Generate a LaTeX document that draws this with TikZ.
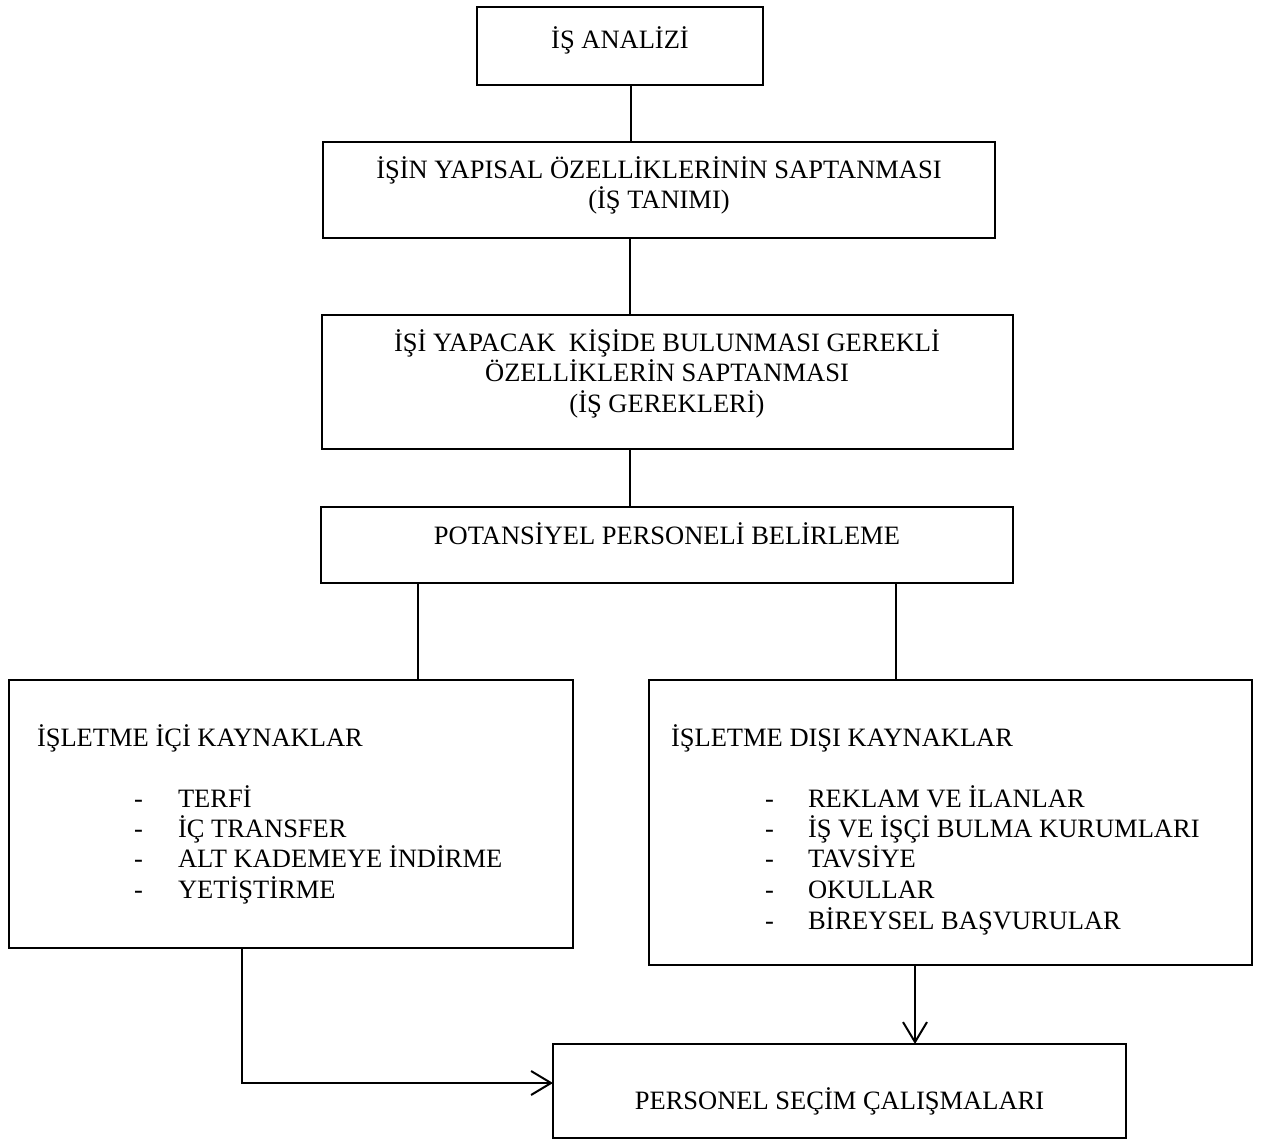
\documentclass[tikz,border=0pt]{standalone}
\usepackage{fontspec}
\setmainfont{Liberation Serif}
\usetikzlibrary{arrows.meta}
\begin{document}
\begin{tikzpicture}[x=1pt,y=-1pt,
  frame/.style={draw=black, line width=2pt, inner sep=0pt, outer sep=0pt},
  txt/.style={inner sep=0pt, outer sep=0pt, font=\fontsize{26.5}{28}\selectfont},
  ctr/.style={txt, anchor=base},
  lft/.style={txt, anchor=base west},
  link/.style={draw=black, line width=2pt},
  arr/.style={link, -{Straight Barb[length=20pt,width=24pt]}}]
\useasboundingbox[fill=white] (0,0) rectangle (1262,1141);

% boxes
\node[frame, minimum width=286pt, minimum height=78pt]  (b1)   at (620,46)     {};
\node[frame, minimum width=672pt, minimum height=96pt]  (b2)   at (659,190)    {};
\node[frame, minimum width=691pt, minimum height=134pt] (b3)   at (667.5,382)  {};
\node[frame, minimum width=692pt, minimum height=76pt]  (b4)   at (667,545)    {};
\node[frame, minimum width=564pt, minimum height=268pt] (lbox) at (291,814)    {};
\node[frame, minimum width=603pt, minimum height=285pt] (rbox) at (950.5,822.5){};
\node[frame, minimum width=573pt, minimum height=94pt]  (sel)  at (839.5,1091) {};

% texts
\node[ctr] (t1)  at (620,48)  {İŞ ANALİZİ};
\node[ctr] (t2a) at (659,178) {İŞİN YAPISAL ÖZELLİKLERİNİN SAPTANMASI};
\node[ctr] (t2b) at (659,208) {(İŞ TANIMI)};
\node[ctr] (t3a) at (667,351) {İŞİ YAPACAK\ \ KİŞİDE BULUNMASI GEREKLİ};
\node[ctr] (t3b) at (667,381) {ÖZELLİKLERİN SAPTANMASI};
\node[ctr] (t3c) at (667,412) {(İŞ GEREKLERİ)};
\node[ctr] (t4)  at (667,544) {POTANSİYEL PERSONELİ BELİRLEME};

\node[lft] (lh) at (37,746) {İŞLETME İÇİ KAYNAKLAR};
\foreach \i/\t/\y in {1/TERFİ/807, 2/İÇ TRANSFER/837, 3/ALT KADEME{}YE İNDİRME/867, 4/YETİŞTİRME/898}{
  \node[lft] (ld\i) at (134,\y) {-};
  \node[lft] (li\i) at (178,\y) {\t};
}

\node[lft] (rh) at (671,746) {İŞLETME DIŞI KAYNAKLAR};
\foreach \i/\t/\y in {1/REKLAM VE İLANLAR/807, 2/İŞ VE İŞÇİ BULMA KURUMLARI/837, 3/TAVSİYE/867, 4/OKULLAR/898, 5/BİREYSEL BAŞVURULAR/929}{
  \node[lft] (rd\i) at (765,\y) {-};
  \node[lft] (ri\i) at (808,\y) {\t};
}

\node[ctr] (t7) at (839.5,1109) {PERSONEL SEÇİM ÇALIŞMALARI};

% connector columns
\coordinate (x1) at (631,0);
\coordinate (x2) at (630,0);
\coordinate (xl) at (418,0);
\coordinate (xr) at (896,0);
\coordinate (xa) at (915,0);
\coordinate (turn) at (242,1083);

\draw[link] (b1.south -| x1) -- (b2.north -| x1);
\draw[link] (b2.south -| x2) -- (b3.north -| x2);
\draw[link] (b3.south -| x2) -- (b4.north -| x2);
\draw[link] (b4.south -| xl) -- (lbox.north -| xl);
\draw[link] (b4.south -| xr) -- (rbox.north -| xr);
\draw[arr]  (rbox.south -| xa) -- (sel.north -| xa);
\draw[arr]  (lbox.south -| turn) |- (sel.west |- turn);
\end{tikzpicture}
\end{document}
